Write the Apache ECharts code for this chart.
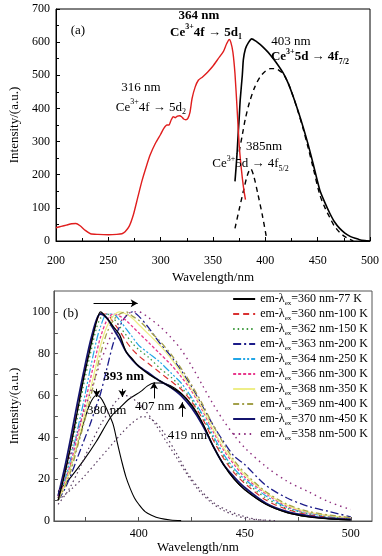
<!DOCTYPE html>
<html><head><meta charset="utf-8">
<script src="https://cdn.jsdelivr.net/npm/echarts@6/dist/echarts.min.js"></script>
<style>html,body{margin:0;padding:0;background:#fff}#c{width:382px;height:556px}</style>
</head><body><div id="c"></div>
<script>
// ---------- Panel (a) ----------
const excX = [200,205,210,215,219,223,228,233,240,250,258,263,266,270,274,278,282,286,290,295,300,303,306,308,310,312,314,316,318,320,322,324,326,328,330,333,336,340,345,350,355,360,363,365.5,367,369,371,373,375,377,379,381];
const excY = [40,44,48,52,53,46,32,22,20,19,20,22,28,45,80,130,180,222,260,295,322,340,350,350,365,375,372,377,378,375,368,366,370,388,430,465,485,495,510,528,550,572,595,608,600,570,505,400,290,220,165,125];
const emX = [371,372,373,374,375,376,378,379,381,383.7,387,391,395,400,404.4,410,417,422,426.6,431,436,441,445.6,452,457,461.7,466,471,476,481,486,490,495,500];
const emY = [180,220,265,320,370,426,500,547,580,598,610,603,593,578,563,540,507,475,436,395,345,290,234,154,115,83,58,38,24,14,8,4,1.5,0];
const fit385X = [371,375,379,383,386,389,393,397,401];
const fit385Y = [38,95,150,200,218,195,140,80,12];
const fit403X = [375,378,381,385,390,395,400,405,409,413,417,422,426.6,431,436,441,445.6,452,457,461.7,466,471,476,480,484];
const fit403Y = [270,320,370,420,465,495,512,520,520,515,505,475,436,393,340,280,222,140,100,70,45,26,13,6,0];

// ---------- Panel (b) ----------
const bX = [362,365,368,371,374,377,380,382,385,388,391,394,397,400,405,410,415,420,425,430,435,440,445,450,460,470,480,490,500];
const exWl = [360,360,362,363,364,366,368,369,370,358];
const temps = [77,100,150,200,250,300,350,400,450,500];
const y77  = [10,22,36,52,68,82,95,100,97,93,89,81,77.5,74,70,67,64,61,55.5,47,36,27,20,15,8,4,2,1,0.5];
const y100 = [11,23,37,53,69,83,95,99,99,95,91,86,82,79,75,71,67,63,57,49,39,30,23,18,10,5.5,3,1.8,1];
const y150 = [11,21,34,49,65,79,92,97,99,97,93,89,85,82,78,73,69,64,58,50,40,31,24,19,11,6,3.5,2,1.2];
const y200 = [10,15,22,30,38,46,55,61,73,85,93,98,100,98,92,85,79,72,64,55,46,38,31,27,17,11,7,4.5,2];
const y250 = [11,19,30,43,57,72,86,93,99,99,96,92,88,84,80,76,71,66,59,51,41,32,25,20,12,6.5,3.8,2.2,1.3];
const y300 = [11,18,28,40,53,67,80,88,96,99,98,96,93,90,85,80,75,69,62,53,43,34,27,21,13,7,4,2.5,1.4];
const y350 = [10,17,26,37,49,62,75,84,93,98,100,99,97,94,89,84,78,71,63,54,44,35,28,22,13.5,7.5,4.3,2.6,1.5];
const y400 = [10,16,24,35,46,58,71,80,90,96,99,100,98,96,91,86,80,73,65,56,46,37,29,23,14,8,4.6,2.8,1.6];
const y450 = [12,25,40,56,71,85,96,99,97,92,87,81,77,74,70.5,67,64,60,54,46,36,27,21,16,8.5,4.5,2.5,1.3,0.8];
const y500 = [12,22,32,42,52,61,70,76,84,91,95,98,100,100,97,93,88,82,74,65,56,48,41,35,26,19,14,9,5.5];
const bSeriesY = [y77,y100,y150,y200,y250,y300,y350,y400,y450,y500];

const c380X = [362,366,370,374,377,380,382,384,386,388,390,392,394,396,398,400,403,406,410,415,420];
const c380Y = [10,20,33,47,56,60,59,55.5,51,46,37,28.5,21,15.5,11,8,4.5,2.8,1.3,0.5,0.2];
const c407X = [362,368,374,380,387,391,395,398,401,404,407,410,413,417,420,423,427,431,435,440,445,450,460,470,480,490,500];
const c407Y = [14,21,29,38,50,54,58,60,62,64.5,66,66,65.5,63.5,61,57.7,52,45,36,27,20,15,8,4,2,1,0.5];
const c393X = [362,367,372,377,382,387,390,393,396,399,403,408,413,418,423,428,434,440,446,452,460];
const c393Y = [8,15,25,36,46,54,58,60,59.5,57,53,46,38,30,22,15,9,5,2.5,1,0.3];
const c402X = [362,368,374,380,386,392,397,402,407,412,418,423,429,435,442,448,456,465];
const c402Y = [10,15,21,28,35,42,47,50,48,42,32,23,15,9,5,2.7,0.7,0.2];

const zip = (xs, ys) => xs.map((x, i) => [x, ys[i]]);
const FONT = 'Liberation Serif';

const bColors = ['#000000','#d93030','#3f9a3f','#1c1c8a','#22a6e6','#e8388c','#eeee88','#a3a04a','#14146e','#8e2f7f'];
const bDash = ['solid',[6,4],[1.5,3],[8,3,2,3],[8,2,2,2,2,2],[3,2],'solid',[6,3,2,3],'solid',[1.5,4]];
const bWidth = [1.3,1.2,1.3,1.3,1.2,1.3,1.3,1.3,1.8,1.4];

const richTxt = {
  sup: {fontSize: 8, lineHeight: 8, verticalAlign: 'top', fontFamily: FONT, color: '#000'},
  sub: {fontSize: 8, lineHeight: 8, verticalAlign: 'bottom', fontFamily: FONT, color: '#000'},
  bsup: {fontSize: 8, lineHeight: 8, verticalAlign: 'top', fontFamily: FONT, color: '#000', fontWeight: 'bold'},
  bsub: {fontSize: 8, lineHeight: 8, verticalAlign: 'bottom', fontFamily: FONT, color: '#000', fontWeight: 'bold'},
  b: {fontSize: 13, lineHeight: 18, fontFamily: FONT, color: '#000', fontWeight: 'bold'},
  n: {fontSize: 13, lineHeight: 18, fontFamily: FONT, color: '#000'}
};

function note(coord, text) {
  return {coord: coord, value: 0, label: {formatter: text}};
}

const annA = [
  note([221, 636], '{n|(a)}'),
  note([336.6, 681], '{b|364 nm}'),
  note([343.3, 630], '{b|Ce}{bsup|3+}{b|4f \u2192 5d}{bsub|1}'),
  note([281.2, 463], '{n|316 nm}'),
  note([290.7, 404], '{n|Ce}{sup|3+}{n|4f \u2192 5d}{sub|2}'),
  note([424.4, 601], '{n|403 nm}'),
  note([442.6, 555], '{b|Ce}{bsup|3+}{b|5d \u2192 4f}{bsub|7/2}'),
  note([398.7, 285], '{n|385nm}'),
  note([385.8, 234], '{n|Ce}{sup|3+}{n|5d \u2192 4f}{sub|5/2}')
];
const annB = [
  note([367.9, 99], '{n|(b)}'),
  note([392.9, 69], '{b|393 nm}'),
  note([384.9, 53], '{n|380 nm}'),
  note([407.5, 54.5], '{n|407 nm}'),
  note([423, 41], '{n|419 nm}')
];
const arrowsB = [
  [{coord: [378.7, 104.2]}, {coord: [399.5, 104.2]}],
  [{coord: [380.2, 63.2]}, {coord: [380.2, 59.3]}],
  [{coord: [392.3, 63.2]}, {coord: [392.3, 59.3]}],
  [{coord: [407.2, 58.6]}, {coord: [407.2, 66.3]}],
  [{coord: [420.5, 49.8]}, {coord: [420.5, 56.8]}]
];

function axisCommon(color) {
  return {
    axisLine: {show: true, lineStyle: {color: color, width: 1}},
    axisTick: {show: true, inside: true, length: 4, lineStyle: {color: color}},
    minorTick: {show: true, splitNumber: 2, length: 3, lineStyle: {color: color}},
    splitLine: {show: false},
    axisLabel: {color: '#000', fontFamily: FONT, fontSize: 12},
    nameTextStyle: {color: '#000', fontFamily: FONT, fontSize: 13}
  };
}

const series = [];
// panel a
series.push({
  type: 'line', xAxisIndex: 0, yAxisIndex: 0, data: zip(excX, excY), showSymbol: false, symbol: 'none',
  smooth: 0.2, lineStyle: {color: '#e01e1e', width: 1.4}, z: 3,
  markPoint: {symbol: 'rect', symbolSize: 1, itemStyle: {color: 'rgba(0,0,0,0)'}, silent: true,
    label: {show: true, position: 'inside', rich: richTxt}, data: annA}
});
series.push({type: 'line', xAxisIndex: 0, yAxisIndex: 0, data: zip(emX, emY), showSymbol: false, symbol: 'none', smooth: 0.2, lineStyle: {color: '#000', width: 1.6}, z: 2});
series.push({type: 'line', xAxisIndex: 0, yAxisIndex: 0, data: zip(fit385X, fit385Y), showSymbol: false, symbol: 'none', smooth: 0.3, lineStyle: {color: '#000', width: 1.4, type: [5,4]}, z: 2});
series.push({type: 'line', xAxisIndex: 0, yAxisIndex: 0, data: zip(fit403X, fit403Y), showSymbol: false, symbol: 'none', smooth: 0.3, lineStyle: {color: '#000', width: 1.4, type: [5,4]}, z: 2});

// panel b: decomposition curves, annotations and arrows
series.push({
  type: 'line', xAxisIndex: 1, yAxisIndex: 1, data: zip(c407X, c407Y), showSymbol: false, symbol: 'none', smooth: 0.3,
  lineStyle: {color: '#000', width: 1.1}, z: 1,
  markPoint: {symbol: 'rect', symbolSize: 1, itemStyle: {color: 'rgba(0,0,0,0)'}, silent: true,
    label: {show: true, position: 'inside', rich: richTxt}, data: annB},
  markLine: {silent: true, symbol: ['none', 'arrow'], symbolSize: [6, 7], label: {show: false},
    lineStyle: {color: '#000', width: 1, type: 'solid'}, data: arrowsB}
});
series.push({type: 'line', xAxisIndex: 1, yAxisIndex: 1, data: zip(c380X, c380Y), showSymbol: false, symbol: 'none', smooth: 0.3, lineStyle: {color: '#000', width: 1.1}, z: 1});
series.push({type: 'line', xAxisIndex: 1, yAxisIndex: 1, data: zip(c393X, c393Y), showSymbol: false, symbol: 'none', smooth: 0.3, lineStyle: {color: '#5b3f63', width: 1.2, type: [1.5,3]}, z: 1});
series.push({type: 'line', xAxisIndex: 1, yAxisIndex: 1, data: zip(c402X, c402Y), showSymbol: false, symbol: 'none', smooth: 0.3, lineStyle: {color: '#5b3f63', width: 1.2, type: [1.5,3]}, z: 1});

const legendNames = [];
bSeriesY.forEach((ys, i) => {
  const name = 'em-\u03bbex=' + exWl[i] + ' nm-' + temps[i] + ' K';
  legendNames.push(name);
  series.push({
    name: name, type: 'line', xAxisIndex: 1, yAxisIndex: 1, data: zip(bX, ys), showSymbol: false, symbol: 'none',
    smooth: 0.3, lineStyle: {color: bColors[i], width: bWidth[i], type: bDash[i]}, itemStyle: {color: bColors[i]}, z: 2 + (i === 0 ? 8 : 0)
  });
});

const ca = axisCommon('#000');
const cb = axisCommon('#555');

const option = {
  animation: false,
  backgroundColor: '#fff',
  grid: [
    {left: 56, right: 10, top: 9, bottom: 315, show: true, borderColor: '#000', borderWidth: 1, backgroundColor: 'transparent'},
    {left: 53, right: 10, top: 291, bottom: 35, show: true, borderColor: '#555', borderWidth: 1, backgroundColor: 'transparent'}
  ],
  xAxis: [
    Object.assign({}, ca, {type: 'value', gridIndex: 0, min: 200, max: 500, interval: 50,
      name: 'Wavelength/nm', nameLocation: 'middle', nameGap: 30,
      axisLabel: Object.assign({}, ca.axisLabel, {margin: 14})}),
    Object.assign({}, cb, {type: 'value', gridIndex: 1, min: 360, max: 510,
      name: 'Wavelength/nm', nameLocation: 'middle', nameGap: 19,
      nameTextStyle: Object.assign({}, cb.nameTextStyle, {padding: [0, 30, 0, 0]}),
      minorTick: {show: false},
      axisTick: Object.assign({}, cb.axisTick, {customValues: [375,400,425,450,475,500]}),
      axisLabel: Object.assign({}, cb.axisLabel, {margin: 7, customValues: [400,450,500]})})
  ],
  yAxis: [
    Object.assign({}, ca, {type: 'value', gridIndex: 0, min: 0, max: 700, interval: 100,
      name: 'Intensity/(a.u.)', nameLocation: 'middle', nameGap: 30,
      axisLabel: Object.assign({}, ca.axisLabel, {margin: 6})}),
    Object.assign({}, cb, {type: 'value', gridIndex: 1, min: 0, max: 110,
      name: 'Intensity/(a.u.)', nameLocation: 'middle', nameGap: 26,
      minorTick: {show: false},
      axisTick: Object.assign({}, cb.axisTick, {customValues: [0,10,20,30,40,50,60,70,80,90,100]}),
      axisLabel: Object.assign({}, cb.axisLabel, {margin: 4, customValues: [0,20,40,60,80,100]})})
  ],
  legend: {
    data: legendNames, orient: 'vertical', right: 9, top: 286, itemWidth: 22, itemHeight: 10, itemGap: -1,
    selectedMode: false,
    itemStyle: {opacity: 0},
    formatter: (name) => name.replace('\u03bbex', '\u03bb{sub|ex}'),
    textStyle: {fontFamily: FONT, fontSize: 12, lineHeight: 16, color: '#000',
      rich: {sub: {fontSize: 7, lineHeight: 8, verticalAlign: 'bottom', fontFamily: FONT, color: '#000'}}}
  },
  series: series
};

const chart = echarts.init(document.getElementById('c'), null, {renderer: 'canvas'});
chart.setOption(option);
</script>
</body></html>
